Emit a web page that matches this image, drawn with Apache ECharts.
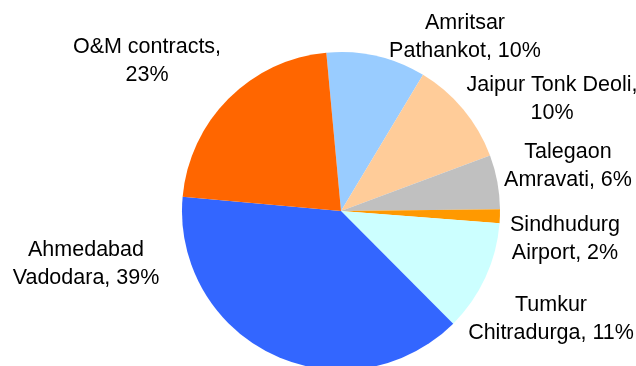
<!DOCTYPE html>
<html>
<head>
<meta charset="utf-8">
<script src="https://cdn.jsdelivr.net/npm/echarts@6/dist/echarts.min.js"></script>
<style>
html,body{margin:0;padding:0;background:#fff;}
#chart{width:636px;height:366px;}
</style>
</head>
<body>
<div id="chart"></div>
<script>
// Data (slice shares, in drawing order clockwise)
var names = ['Amritsar\nPathankot', 'Jaipur Tonk Deoli', 'Talegaon\nAmravati', 'Sindhudurg\nAirport', 'Tumkur\nChitradurga', 'Ahmedabad\nVadodara', 'O&M contracts'];
var values = [10.1, 10.7, 5.5, 1.4, 11.3, 38.9, 22.1];
var pctLabels = [10, 10, 6, 2, 11, 39, 23];

// Styling / layout (kept separate from data)
var colors = ['#99CCFF', '#FFCC99', '#C0C0C0', '#FF9900', '#CCFFFF', '#3366FF', '#FF6600'];
var labelX = [465, 552, 568, 565, 551, 86, 147];
var labelY = [37, 99, 166, 239, 319, 264, 61];

var chart = echarts.init(document.getElementById('chart'), null, {renderer: 'canvas'});
var seriesData = names.map(function (n, i) {
  return {name: n, value: values[i], itemStyle: {color: colors[i]}};
});
chart.setOption({
  animation: false,
  backgroundColor: '#ffffff',
  series: [{
    type: 'pie',
    center: [341, 211],
    radius: 159,
    startAngle: 95.3,
    clockwise: true,
    avoidLabelOverlap: false,
    silent: true,
    itemStyle: {borderWidth: 0},
    label: {
      show: true,
      position: 'outside',
      color: '#000',
      fontFamily: 'Liberation Sans, Arial, sans-serif',
      fontSize: 21.5,
      lineHeight: 28,
      align: 'center',
      formatter: function (p) {
        var n = p.name, v = pctLabels[p.dataIndex];
        return n.indexOf('\n') >= 0 ? n + ', ' + v + '%' : n + ',\n' + v + '%';
      }
    },
    labelLine: {show: false},
    labelLayout: function (params) {
      var i = params.dataIndex;
      return {x: labelX[i], y: labelY[i], align: 'center', verticalAlign: 'middle'};
    },
    data: seriesData
  }]
});
</script>
</body>
</html>
